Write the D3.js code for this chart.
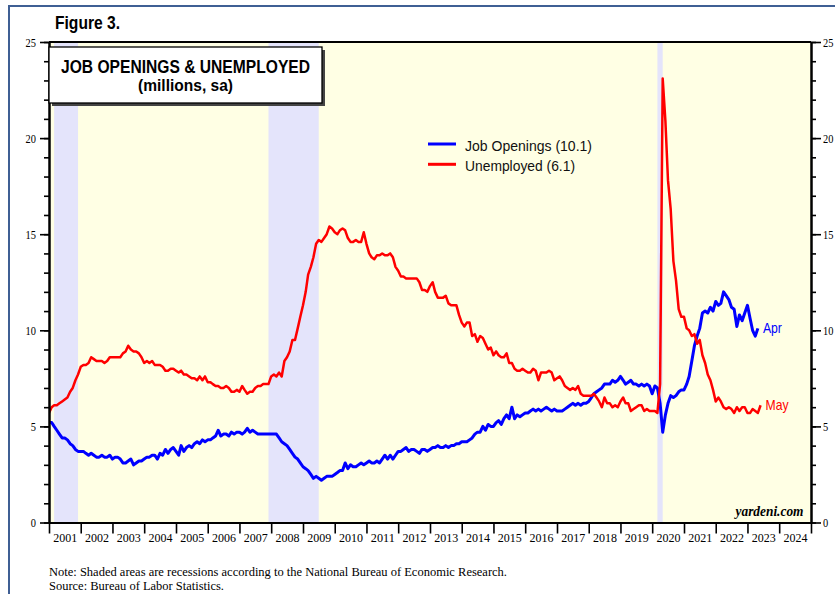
<!DOCTYPE html>
<html>
<head>
<meta charset="utf-8">
<script src="https://cdn.jsdelivr.net/npm/d3@7"></script>
<style>
  body { margin: 0; background: #fff; }
  svg { display: block; }
  .axis path, .axis line { stroke: #000; }
  .axis text { font-family: "Liberation Serif", "Times New Roman", serif; fill: #000; }
</style>
</head>
<body>
<script>
const width = 835;
const height = 594;

// monthly values in millions, first value is Dec 2000
const firstMonth = new Date(2000, 11, 1);

const jobOpenings = [
  5.2,
  5.2, 5.0, 4.8, 4.6, 4.4, 4.4, 4.3, 4.1, 4.0, 3.8, 3.7, 3.7,   // 2001
  3.7, 3.6, 3.5, 3.6, 3.5, 3.4, 3.4, 3.5, 3.4, 3.4, 3.5, 3.3,   // 2002
  3.4, 3.4, 3.3, 3.1, 3.1, 3.2, 3.3, 3.0, 3.1, 3.2, 3.2, 3.3,   // 2003
  3.4, 3.4, 3.5, 3.5, 3.3, 3.6, 3.5, 3.8, 3.6, 3.8, 3.9, 3.7,   // 2004
  3.5, 4.0, 3.7, 3.9, 4.0, 3.9, 4.1, 4.2, 4.1, 4.3, 4.2, 4.3,   // 2005
  4.3, 4.4, 4.5, 4.8, 4.5, 4.6, 4.6, 4.5, 4.7, 4.6, 4.7, 4.7,   // 2006
  4.6, 4.7, 4.9, 4.7, 4.8, 4.7, 4.6, 4.6, 4.6, 4.6, 4.6, 4.6,   // 2007
  4.6, 4.6, 4.4, 4.2, 4.1, 4.0, 3.8, 3.6, 3.4, 3.3, 3.1, 2.9,   // 2008
  2.8, 2.7, 2.5, 2.3, 2.4, 2.3, 2.2, 2.3, 2.4, 2.4, 2.4, 2.5,   // 2009
  2.6, 2.7, 2.7, 3.1, 2.8, 3.0, 2.9, 2.9, 3.0, 3.1, 3.0, 3.1,   // 2010
  3.2, 3.1, 3.1, 3.2, 3.1, 3.3, 3.5, 3.3, 3.5, 3.3, 3.5, 3.7,   // 2011
  3.7, 3.8, 3.9, 3.7, 3.8, 3.8, 3.7, 3.6, 3.8, 3.8, 3.7, 3.8,   // 2012
  3.9, 3.9, 4.0, 3.9, 3.9, 4.0, 3.9, 4.0, 4.0, 4.1, 4.1, 4.2,   // 2013
  4.2, 4.2, 4.3, 4.4, 4.6, 4.7, 4.7, 5.0, 4.8, 5.1, 5.0, 5.0,   // 2014
  5.2, 5.3, 5.1, 5.4, 5.6, 5.4, 6.0, 5.4, 5.6, 5.5, 5.6, 5.7,   // 2015
  5.7, 5.8, 5.9, 5.8, 5.9, 5.8, 5.9, 6.0, 5.9, 5.8, 5.9, 5.8,   // 2016
  5.8, 5.8, 5.9, 6.0, 6.1, 6.2, 6.1, 6.2, 6.1, 6.2, 6.2, 6.3,   // 2017
  6.5, 6.7, 6.8, 6.9, 7.0, 7.2, 7.2, 7.2, 7.4, 7.3, 7.4, 7.6,   // 2018
  7.4, 7.2, 7.3, 7.4, 7.2, 7.2, 7.1, 7.2, 7.1, 7.2, 7.1, 6.7,   // 2019
  7.1, 7.0, 6.2, 4.7, 5.6, 6.2, 6.6, 6.5, 6.6, 6.8, 6.9, 6.9,   // 2020
  7.2, 7.6, 8.4, 9.2, 9.7, 10.1, 10.9, 11.0, 10.9, 11.2, 11.0, 11.5,   // 2021
  11.3, 11.4, 12.0, 11.8, 11.6, 11.2, 11.1, 10.2, 10.8, 10.5, 10.9, 11.3, // 2022
  10.6, 10.0, 9.7, 10.1   // 2023
];

const unemployed = [
  5.7,
  6.0, 6.1, 6.1, 6.2, 6.3, 6.4, 6.5, 6.8, 7.0, 7.4, 7.7, 8.1,   // 2001
  8.2, 8.2, 8.3, 8.6, 8.5, 8.4, 8.4, 8.4, 8.3, 8.4, 8.6, 8.6,   // 2002
  8.6, 8.6, 8.6, 8.8, 8.9, 9.2, 9.0, 8.9, 8.9, 8.8, 8.6, 8.3,   // 2003
  8.4, 8.3, 8.4, 8.2, 8.2, 8.2, 8.1, 7.9, 7.9, 8.0, 8.0, 7.9,   // 2004
  7.8, 7.9, 7.7, 7.7, 7.6, 7.5, 7.5, 7.4, 7.6, 7.4, 7.6, 7.3,   // 2005
  7.3, 7.2, 7.1, 7.1, 7.0, 7.0, 7.1, 7.0, 6.8, 6.8, 6.9, 6.8,   // 2006
  7.1, 6.9, 6.7, 6.8, 6.8, 7.0, 7.1, 7.1, 7.2, 7.2, 7.2, 7.6,   // 2007
  7.7, 7.6, 7.8, 7.6, 8.4, 8.6, 8.9, 9.5, 9.5, 10.1, 10.7, 11.3,   // 2008
  12.0, 12.9, 13.3, 13.8, 14.5, 14.7, 14.6, 14.8, 15.0, 15.4, 15.3, 15.1,   // 2009
  15.0, 15.2, 15.3, 15.2, 14.8, 14.6, 14.6, 14.7, 14.6, 14.6, 15.1, 14.5,   // 2010
  14.0, 13.8, 13.7, 13.9, 13.9, 14.0, 13.9, 13.9, 14.0, 13.8, 13.3, 13.1,   // 2011
  12.8, 12.8, 12.7, 12.7, 12.7, 12.7, 12.7, 12.5, 12.1, 12.1, 12.0, 12.3,   // 2012
  12.5, 12.0, 11.7, 11.7, 11.7, 11.8, 11.4, 11.3, 11.3, 11.3, 10.8, 10.4,   // 2013
  10.2, 10.4, 10.4, 9.7, 9.8, 9.4, 9.7, 9.6, 9.3, 9.0, 9.1, 8.7,   // 2014
  8.9, 8.7, 8.6, 8.6, 8.8, 8.3, 8.3, 8.0, 7.9, 7.9, 8.0, 7.9,   // 2015
  7.8, 7.8, 8.0, 7.9, 7.4, 7.8, 7.8, 7.8, 7.9, 7.8, 7.4, 7.5,   // 2016
  7.6, 7.4, 7.1, 7.0, 6.9, 7.0, 6.9, 7.1, 6.7, 6.6, 6.6, 6.6,   // 2017
  6.6, 6.7, 6.5, 6.3, 6.0, 6.5, 6.2, 6.2, 6.0, 6.1, 6.0, 6.3,   // 2018
  6.5, 6.2, 6.2, 5.8, 5.9, 6.0, 6.1, 6.1, 5.8, 5.9, 5.8, 5.8,   // 2019
  5.8, 5.7, 7.2, 23.1, 20.9, 17.8, 16.3, 13.6, 12.6, 11.1, 10.7, 10.7,   // 2020
  10.1, 10.0, 9.7, 9.8, 9.3, 9.5, 8.7, 8.3, 7.7, 7.4, 6.9, 6.3,   // 2021
  6.5, 6.3, 6.0, 5.9, 6.0, 5.9, 5.7, 6.0, 5.8, 6.0, 6.0, 5.7,   // 2022
  5.7, 5.9, 5.8, 5.7, 6.1   // 2023
];

const recessions = [
  ['2001-03-01', '2001-12-01'],
  ['2007-12-01', '2009-07-01'],
  ['2020-03-01', '2020-05-01']
];

const yearLabels = ['2001', '2002', '2003', '2004', '2005', '2006', '2007', '2008',
  '2009', '2010', '2011', '2012', '2013', '2014', '2015', '2016', '2017', '2018',
  '2019', '2020', '2021', '2022', '2023', '2024'];
const yMajorTicks = [0, 5, 10, 15, 20, 25];

const legendItems = [
  { label: 'Job Openings (10.1)', color: '#0000ff', w: 127 },
  { label: 'Unemployed (6.1)', color: '#ff0000', w: 110 }
];

const parseDate = d3.timeParse('%Y-%m-%d');

// squeeze text to a measured width (the original lettering is narrow)
function squeeze(sel, w) {
  sel.attr('textLength', w).attr('lengthAdjust', 'spacingAndGlyphs');
}

let svg = d3.select('body')
  .append('svg')
  .attr('width', width)
  .attr('height', height);

// outer frame
svg.append('rect')
  .attr('x', 9).attr('y', 6)
  .attr('width', width + 10).attr('height', height + 10)
  .attr('fill', 'none')
  .attr('stroke', '#3f5f94')
  .attr('stroke-width', 2);

let plotMargins = { top: 42, bottom: 71.5, left: 49, right: 24 };
let plotWidth = width - plotMargins.left - plotMargins.right;
let plotHeight = height - plotMargins.top - plotMargins.bottom;

let plotGroup = svg.append('g')
  .attr('transform', `translate(${plotMargins.left}, ${plotMargins.top})`);

let xScale = d3.scaleTime()
  .domain([new Date(2001, 0, 1), new Date(2025, 0, 1)])
  .range([0, plotWidth]);
let yScale = d3.scaleLinear()
  .domain([0, 25])
  .range([plotHeight, 0]);

plotGroup.append('clipPath')
  .attr('id', 'plot-clip')
  .append('rect')
  .attr('width', plotWidth)
  .attr('height', plotHeight);

plotGroup.append('rect')
  .attr('width', plotWidth)
  .attr('height', plotHeight)
  .attr('fill', '#ffffe4');

plotGroup.selectAll('.recession')
  .data(recessions)
  .enter()
  .append('rect')
  .classed('recession', true)
  .attr('x', d => xScale(parseDate(d[0])))
  .attr('width', d => xScale(parseDate(d[1])) - xScale(parseDate(d[0])))
  .attr('y', 0)
  .attr('height', plotHeight)
  .attr('fill', '#e4e4fb');

// points sit at the end of their month
let line = d3.line()
  .x((d, i) => xScale(d3.timeMonth.offset(firstMonth, i + 1)))
  .y(d => yScale(d));

let linesGroup = plotGroup.append('g')
  .attr('clip-path', 'url(#plot-clip)');

linesGroup.append('path')
  .datum(jobOpenings)
  .attr('fill', 'none')
  .attr('stroke', '#0000ff')
  .attr('stroke-width', 3)
  .attr('stroke-linejoin', 'round')
  .attr('d', line);

linesGroup.append('path')
  .datum(unemployed)
  .attr('fill', 'none')
  .attr('stroke', '#ff0000')
  .attr('stroke-width', 2.5)
  .attr('stroke-linejoin', 'round')
  .attr('d', line);

// end labels
plotGroup.append('text')
  .attr('x', xScale(d3.timeMonth.offset(firstMonth, jobOpenings.length)) + 5)
  .attr('y', yScale(jobOpenings[jobOpenings.length - 1]) + 5)
  .attr('fill', '#0000ff')
  .style('font', '14.5px "Liberation Sans", Arial, sans-serif')
  .text('Apr')
  .call(squeeze, 19);

plotGroup.append('text')
  .attr('x', xScale(d3.timeMonth.offset(firstMonth, unemployed.length)) + 5)
  .attr('y', yScale(unemployed[unemployed.length - 1]) + 5)
  .attr('fill', '#ff0000')
  .style('font', '14.5px "Liberation Sans", Arial, sans-serif')
  .text('May')
  .call(squeeze, 23);

// axes
let yMinorLeft = d3.axisLeft(yScale).tickValues(d3.range(0, 26)).tickSize(5).tickFormat('').tickSizeOuter(0);
let yMajorLeft = d3.axisLeft(yScale).tickValues(yMajorTicks).tickSize(9).tickPadding(4).tickSizeOuter(0);
let yMinorRight = d3.axisRight(yScale).tickValues(d3.range(0, 26)).tickSize(5).tickFormat('').tickSizeOuter(0);
let yMajorRight = d3.axisRight(yScale).tickValues(yMajorTicks).tickSize(10).tickPadding(2).tickSizeOuter(0);

[yMinorLeft, yMajorLeft].forEach(ax => {
  plotGroup.append('g').classed('axis', true).call(ax);
});
[yMinorRight, yMajorRight].forEach(ax => {
  plotGroup.append('g').classed('axis', true)
    .attr('transform', `translate(${plotWidth}, 0)`)
    .call(ax);
});

let xTicks = d3.axisBottom(xScale)
  .tickValues(d3.range(2001, 2026).map(y => new Date(y, 0, 1)))
  .tickSize(11).tickFormat('').tickSizeOuter(0);
plotGroup.append('g').classed('axis', true)
  .attr('transform', `translate(0, ${plotHeight})`)
  .call(xTicks);

let xLabels = d3.axisBottom(xScale)
  .tickValues(yearLabels.map(y => new Date(+y, 6, 2)))
  .tickSize(0).tickPadding(10)
  .tickFormat((d, i) => yearLabels[i]);
let xLabelGroup = plotGroup.append('g').classed('axis', true)
  .attr('transform', `translate(0, ${plotHeight})`)
  .call(xLabels);
xLabelGroup.select('.domain').remove();

plotGroup.selectAll('.axis .domain').attr('stroke-width', 2);
plotGroup.selectAll('.axis line').attr('stroke-width', 1.6);
plotGroup.selectAll('.axis text')
  .style('font-size', '13.5px')
  .each(function () {
    let t = d3.select(this);
    squeeze(t, t.text().length * (t.text().length === 4 ? 6 : 5.2));
  });

// top border
plotGroup.append('line')
  .attr('x1', 0).attr('x2', plotWidth)
  .attr('y1', 0).attr('y2', 0)
  .attr('stroke', '#000').attr('stroke-width', 2);

// title box
svg.append('rect')
  .attr('x', 52).attr('y', 50).attr('width', 273).attr('height', 56)
  .attr('fill', '#444');
svg.append('rect')
  .attr('x', 49).attr('y', 47).attr('width', 273).attr('height', 56)
  .attr('fill', '#fff').attr('stroke', '#000').attr('stroke-width', 1.3);

svg.append('text')
  .attr('x', 185.5).attr('y', 72.7)
  .attr('text-anchor', 'middle')
  .style('font', 'bold 18.5px "Liberation Sans", Arial, sans-serif')
  .text('JOB OPENINGS & UNEMPLOYED')
  .call(squeeze, 249);
svg.append('text')
  .attr('x', 185.5).attr('y', 90.5)
  .attr('text-anchor', 'middle')
  .style('font', 'bold 17px "Liberation Sans", Arial, sans-serif')
  .text('(millions, sa)')
  .call(squeeze, 95);

svg.append('text')
  .attr('x', 55).attr('y', 29.3)
  .style('font', 'bold 17.5px "Liberation Sans", Arial, sans-serif')
  .text('Figure 3.')
  .call(squeeze, 65);

// legend
let legend = svg.append('g').attr('transform', 'translate(428, 144)');
let legendRows = legend.selectAll('.legend-row')
  .data(legendItems)
  .enter()
  .append('g')
  .attr('transform', (d, i) => `translate(0, ${i * 20.3})`);
legendRows.append('line')
  .attr('x1', 0).attr('x2', 28)
  .attr('stroke', d => d.color)
  .attr('stroke-width', 3);
legendRows.append('text')
  .attr('x', 37).attr('y', 6.5)
  .style('font', '14.5px "Liberation Sans", Arial, sans-serif')
  .attr('fill', '#111')
  .text(d => d.label)
  .each(function (d) { squeeze(d3.select(this), d.w); });

// watermark
svg.append('text')
  .attr('x', 803.5).attr('y', 516)
  .attr('text-anchor', 'end')
  .style('font', 'italic bold 14px "Liberation Serif", "Times New Roman", serif')
  .text('yardeni.com')
  .call(squeeze, 68);

// notes
svg.append('text')
  .attr('x', 49).attr('y', 575.5)
  .style('font', '12.5px "Liberation Serif", "Times New Roman", serif')
  .text('Note: Shaded areas are recessions according to the National Bureau of Economic Research.')
  .call(squeeze, 458);
svg.append('text')
  .attr('x', 49).attr('y', 589.5)
  .style('font', '12.5px "Liberation Serif", "Times New Roman", serif')
  .text('Source: Bureau of Labor Statistics.')
  .call(squeeze, 175);
</script>
</body>
</html>
